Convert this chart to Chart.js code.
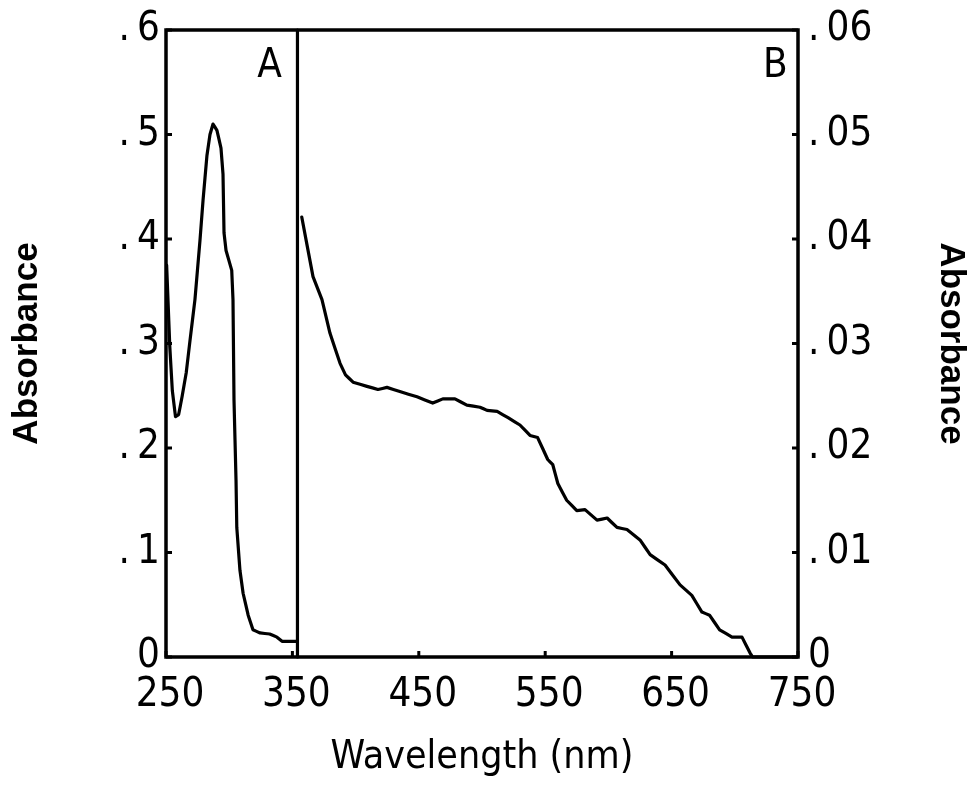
<!DOCTYPE html>
<html>
<head>
<meta charset="utf-8">
<script src="https://cdn.jsdelivr.net/npm/chart.js@4/dist/chart.umd.min.js"></script>
<style>
  html, body { margin: 0; padding: 0; background: #fff; }
  #wrap { width: 973px; height: 786px; }
</style>
</head>
<body>
<div id="wrap"><canvas id="chart" width="973" height="786"></canvas></div>
<script>
// 面板A：紫外区 (左轴 0-0.6)
const wavelengthA = [250.5, 253, 255, 257.5, 260, 262.7, 266, 269, 272.9, 276.9, 279.3, 282.4, 284.8, 287.2,
  290.3, 293.5, 295.1, 295.9, 297.5, 302, 303, 303.8, 305.4, 306, 308.5, 311, 315, 318.8, 324.4, 332, 337.8, 341.8, 353.6];
const absorbanceA = [0.375, 0.297, 0.255, 0.23, 0.232, 0.249, 0.272, 0.303, 0.342, 0.399, 0.437, 0.48, 0.5, 0.51,
  0.504, 0.487, 0.462, 0.406, 0.389, 0.37, 0.342, 0.246, 0.169, 0.124, 0.083, 0.061, 0.04, 0.026, 0.023, 0.022, 0.019, 0.015, 0.015];

// 面板B：可见区 (右轴 0-0.06)
const wavelengthB = [357.4, 366.3, 373.4, 379.7, 387.7, 392, 398, 409, 417.7, 424.8, 435, 448.6, 461, 469, 478.6,
  488, 498.4, 504, 512, 520.6, 530, 538, 544, 552, 556, 560, 567, 575, 581.5, 591, 599, 606.8, 614.7, 625, 633,
  644.8, 656.7, 666, 674, 680, 688, 697.8, 705.7, 712, 714, 749];
const absorbanceB = [0.0421, 0.0364, 0.0342, 0.031, 0.0281, 0.027, 0.0263, 0.0259, 0.0256, 0.0258, 0.0254, 0.0249, 0.0243, 0.0247, 0.0247,
  0.0241, 0.0239, 0.0236, 0.0235, 0.0229, 0.0222, 0.0212, 0.021, 0.0189, 0.0184, 0.0166, 0.015, 0.014, 0.0141, 0.0131, 0.0133, 0.0124, 0.0122, 0.0112, 0.0098,
  0.0088, 0.0069, 0.0059, 0.0043, 0.004, 0.0026, 0.0019, 0.0019, 0.0004, 0, 0];

// 分隔线与面板标记
const dividerX = 354;
const panelNames = ['A', 'B'];
const panelLabelX = [332, 732];
const panelLabelY = 0.565;

// 刻度
const xTicks = [250, 350, 450, 550, 650, 750];

const plotFont = '"Liberation Sans Narrow", "DejaVu Sans Condensed", "Liberation Sans", sans-serif';
const textFont = '"Liberation Sans", Arial, sans-serif';

const toPoints = (xs, ys) => xs.map((x, i) => ({ x: x, y: ys[i] }));

// 去掉刻度文字带来的额外边距，让绘图区位置固定
const fixBox = size => s => {
  if (s.isHorizontal()) { s.height = size; } else { s.width = size; }
  s.paddingTop = 0; s.paddingBottom = 0; s.paddingLeft = 0; s.paddingRight = 0;
};

// 边框、向内刻度、面板字母
const framePlugin = {
  id: 'frame',
  afterDatasetsDraw(chart) {
    const { ctx, chartArea: a, scales } = chart;
    ctx.save();
    ctx.strokeStyle = '#000';
    ctx.lineWidth = 3.5;
    ctx.strokeRect(a.left, a.top, a.right - a.left, a.bottom - a.top);

    ctx.lineWidth = 3;
    scales.x.ticks.forEach(t => {
      const px = scales.x.getPixelForValue(t.value);
      ctx.beginPath(); ctx.moveTo(px, a.bottom); ctx.lineTo(px, a.bottom - 6); ctx.stroke();
    });
    scales.y.ticks.forEach(t => {
      const py = scales.y.getPixelForValue(t.value);
      ctx.beginPath(); ctx.moveTo(a.left, py); ctx.lineTo(a.left + 6, py); ctx.stroke();
    });
    scales.y2.ticks.forEach(t => {
      const py = scales.y2.getPixelForValue(t.value);
      ctx.beginPath(); ctx.moveTo(a.right, py); ctx.lineTo(a.right - 6, py); ctx.stroke();
    });

    ctx.fillStyle = '#000';
    ctx.font = '40px ' + plotFont;
    ctx.textAlign = 'center';
    ctx.textBaseline = 'middle';
    panelNames.forEach((name, i) => {
      ctx.fillText(name, scales.x.getPixelForValue(panelLabelX[i]), scales.y.getPixelForValue(panelLabelY));
    });
    ctx.restore();
  }
};

// tension 取极小值：避开快速路径，同一像素列的点不会画出竖短线
const lineStyle = { borderColor: '#000', borderWidth: 3.2, borderJoinStyle: 'round', borderCapStyle: 'round',
  pointRadius: 0, tension: 0.0001, fill: false, clip: false };

new Chart(document.getElementById('chart'), {
  type: 'line',
  data: {
    datasets: [
      Object.assign({ label: 'A', data: toPoints(wavelengthA, absorbanceA), yAxisID: 'y' }, lineStyle),
      Object.assign({ label: 'B', data: toPoints(wavelengthB, absorbanceB), yAxisID: 'y2' }, lineStyle),
      Object.assign({ label: 'divider', data: [{ x: dividerX, y: 0 }, { x: dividerX, y: 0.6 }], yAxisID: 'y' }, lineStyle)
    ]
  },
  options: {
    responsive: false,
    animation: false,
    layout: { padding: { top: 30, left: 0, right: 0, bottom: 0 } },
    plugins: { legend: { display: false }, tooltip: { enabled: false } },
    scales: {
      x: {
        type: 'linear',
        min: 250, max: 750,
        afterBuildTicks: s => { s.ticks = xTicks.map(v => ({ value: v })); },
        afterFit: fixBox(129),
        grid: { display: false, drawTicks: false },
        border: { display: false },
        ticks: { color: '#000', font: { family: plotFont, size: 40 }, padding: 15, labelOffset: 4, maxRotation: 0 },
        title: { display: true, text: 'Wavelength (nm)', color: '#000', font: { family: plotFont, size: 39 }, padding: { top: 0, bottom: 5 } }
      },
      y: {
        position: 'left',
        min: 0, max: 0.6,
        afterFit: fixBox(166),
        grid: { display: false, drawTicks: false },
        border: { display: false },
        ticks: {
          stepSize: 0.1, color: '#000', padding: 6,
          font: { family: plotFont, size: 40 },
          callback: v => { const n = Math.round(v * 10); return n === 0 ? '0' : '.\u2009' + n; }
        },
        title: { display: true, text: 'Absorbance', color: '#000', font: { family: textFont, size: 35, weight: 'bold' }, padding: { top: 6, bottom: 0 } }
      },
      y2: {
        position: 'right',
        min: 0, max: 0.06,
        afterFit: fixBox(175),
        grid: { display: false, drawTicks: false },
        border: { display: false },
        ticks: {
          stepSize: 0.01, color: '#000', padding: 10,
          font: { family: plotFont, size: 40 },
          callback: v => { const n = Math.round(v * 100); return n === 0 ? '0' : '.\u2009' + String(n).padStart(2, '0'); }
        },
        title: { display: true, text: 'Absorbance', color: '#000', font: { family: textFont, size: 35, weight: 'bold' }, padding: { top: 1, bottom: 0 } }
      }
    }
  },
  plugins: [framePlugin]
});
</script>
</body>
</html>
